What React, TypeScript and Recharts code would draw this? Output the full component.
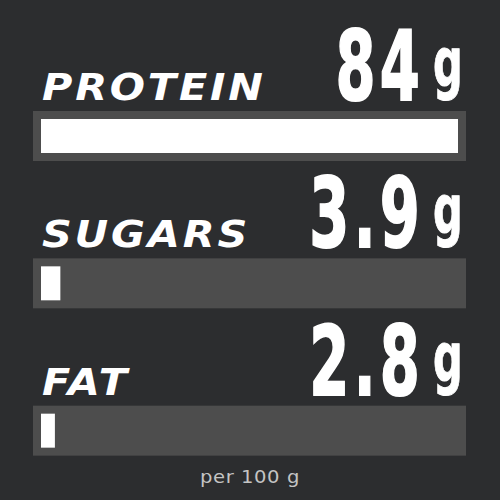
import { Bar, BarChart, Customized, LabelList, XAxis, YAxis } from "recharts";

const categories = ["PROTEIN", "SUGARS", "FAT"];
const values = [84, 3.9, 2.8];
const unit = "g";
const footer = "per 100 g";

const data = categories.map((name, i) => ({ name, value: values[i] }));

const BG = "#2c2d2f";
const TRACK = "#4d4d4d";
const margin = { top: 62, right: 42, bottom: 0, left: 41 };
const plotRight = 500 - margin.right;

const labelFont = "'DejaVu Sans', sans-serif";
const numberFont = "'DejaVu Sans', sans-serif";

function Track(props: any) {
  const { x, y, width, height } = props;
  return <rect x={x - 8} y={y - 8} width={width + 16} height={height + 16} fill={TRACK} />;
}

function NameLabel(props: any) {
  const { x, y, value } = props;
  const tx = x + 1;
  const ty = y - 19;
  return (
    <text
      x={tx}
      y={ty}
      fill="#ffffff"
      fontFamily={labelFont}
      fontWeight="bold"
      fontStyle="italic"
      fontSize={37}
      letterSpacing={2.5}
      transform={`translate(${tx} 0) scale(1.12 1) translate(${-tx} 0)`}
    >
      {value}
    </text>
  );
}

function ValueLabel(props: any) {
  const { y, value } = props;
  const base = y - 19;
  const end = plotRight - 34;
  const gx = end + 9;
  return (
    <g>
      <text
        x={end}
        y={base}
        textAnchor="end"
        fill="#ffffff"
        stroke="#ffffff"
        strokeWidth={2}
        fontFamily={numberFont}
        fontWeight="bold"
        fontSize={96}
        letterSpacing={7}
        transform={`translate(${end} 0) scale(0.6 1) translate(${-end} 0)`}
      >
        {String(value)}
      </text>
      <text
        x={gx}
        y={base - 14}
        fill="#ffffff"
        stroke="#ffffff"
        strokeWidth={1}
        fontFamily={numberFont}
        fontWeight="bold"
        fontSize={67}
        transform={`translate(${gx} 0) scale(0.62 1) translate(${-gx} 0)`}
      >
        {unit}
      </text>
    </g>
  );
}

function Footer() {
  return (
    <text
      x={250}
      y={483}
      textAnchor="middle"
      fill="#c4c4c4"
      fontFamily={labelFont}
      fontSize={17.5}
      letterSpacing={0.5}
      transform="translate(250 0) scale(1.12 1) translate(-250 0)"
    >
      {footer}
    </text>
  );
}

export default function App() {
  return (
    <div style={{ position: "absolute", top: 0, left: 0, width: 500, height: 500, overflow: "hidden", background: BG }}>
      <BarChart width={500} height={504} data={data} layout="vertical" margin={margin}>
        <XAxis type="number" domain={[0, 84]} hide />
        <YAxis type="category" dataKey="name" hide />
        <Bar dataKey="value" fill="#ffffff" barSize={34} background={<Track />} isAnimationActive={false}>
          <LabelList dataKey="name" content={<NameLabel />} />
          <LabelList dataKey="value" content={<ValueLabel />} />
        </Bar>
        <Customized component={Footer} />
      </BarChart>
    </div>
  );
}
